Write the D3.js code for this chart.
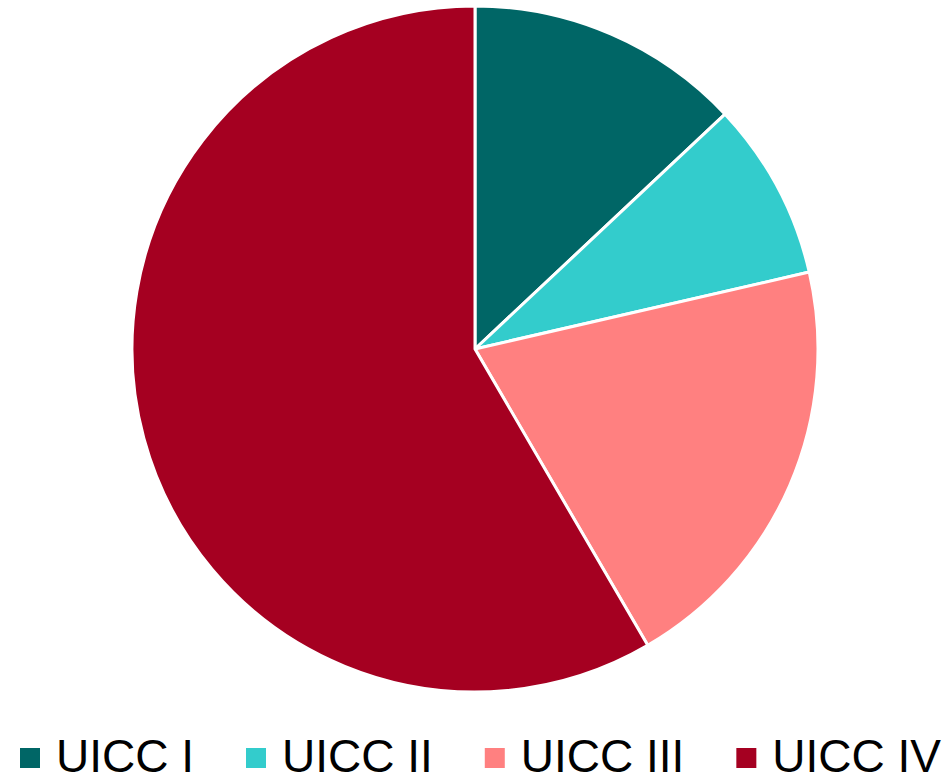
<!DOCTYPE html>
<html>
<head>
<meta charset="utf-8">
<script src="https://cdn.jsdelivr.net/npm/d3@7"></script>
<style>
  html, body { margin: 0; padding: 0; background: #fff; }
  svg { display: block; }
</style>
</head>
<body>
<svg id="chart" width="951" height="779"></svg>
<script>
const categories = ["UICC I", "UICC II", "UICC III", "UICC IV"];
const values = [13.0, 8.4, 20.2, 58.4];
const colors = ["#006666", "#33CCCC", "#FF8080", "#A50021"];

const svg = d3.select("#chart");
const cx = 475, cy = 349, r = 343;

const data = categories.map((c, i) => ({ name: c, value: values[i] }));
const pie = d3.pie().value(d => d.value).sort(null);
const arc = d3.arc().innerRadius(0).outerRadius(r);
const color = d3.scaleOrdinal().domain(categories).range(colors);

svg.append("g")
  .attr("transform", `translate(${cx},${cy})`)
  .selectAll("path")
  .data(pie(data))
  .join("path")
  .attr("d", arc)
  .attr("fill", d => color(d.data.name))
  .attr("stroke", "#fff")
  .attr("stroke-width", 3)
  .attr("stroke-linejoin", "round");

// Legend
const legend = svg.append("g").attr("class", "legend");
let x = 20;
const fontSize = 46;
categories.forEach((c, i) => {
  const g = legend.append("g");
  g.append("rect")
    .attr("x", x).attr("y", 748)
    .attr("width", 20).attr("height", 20)
    .attr("fill", color(c));
  const t = g.append("text")
    .attr("x", x + 36).attr("y", 772)
    .attr("font-family", "Liberation Sans, Arial, sans-serif")
    .attr("font-size", fontSize)
    .attr("fill", "#000")
    .text(c);
  const w = t.node().getComputedTextLength();
  x = x + 36 + w + 52;
});
</script>
</body>
</html>
